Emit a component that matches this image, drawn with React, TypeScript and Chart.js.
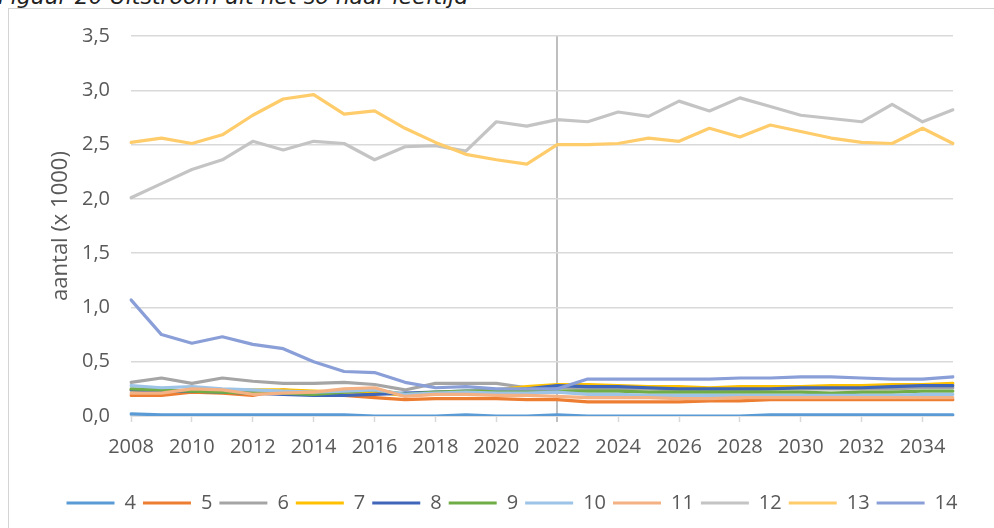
import React, { useEffect, useRef } from "react";
import { Chart, registerables } from "chart.js";

Chart.register(...registerables);

const years = [
  "2008", "2009", "2010", "2011", "2012", "2013", "2014", "2015", "2016", "2017",
  "2018", "2019", "2020", "2021", "2022", "2023", "2024", "2025", "2026", "2027",
  "2028", "2029", "2030", "2031", "2032", "2033", "2034", "2035",
];
const forecastYear = "2022";

const seriesNames = ["4", "5", "6", "7", "8", "9", "10", "11", "12", "13", "14"];
const seriesColors = [
  "#5B9BD5", "#ED7D31", "#A5A5A5", "#FFC000", "#3F66B8", "#70AD47",
  "#9DC3E6", "#F4B183", "#C4C4C4", "#FFCC6B", "#8A9FD8",
];

const s4 = [0.02, 0.01, 0.01, 0.01, 0.01, 0.01, 0.01, 0.01, 0.0, 0.0, 0.0, 0.01, 0.0, 0.0, 0.01, 0.0, 0.0, 0.0, 0.0, 0.0, 0.0, 0.01, 0.01, 0.01, 0.01, 0.01, 0.01, 0.01];
const s5 = [0.19, 0.19, 0.22, 0.21, 0.19, 0.24, 0.21, 0.19, 0.17, 0.15, 0.16, 0.16, 0.16, 0.15, 0.15, 0.13, 0.13, 0.13, 0.13, 0.14, 0.14, 0.15, 0.15, 0.15, 0.15, 0.15, 0.15, 0.15];
const s6 = [0.31, 0.35, 0.3, 0.35, 0.32, 0.3, 0.3, 0.31, 0.29, 0.24, 0.3, 0.3, 0.3, 0.26, 0.26, 0.25, 0.25, 0.25, 0.24, 0.24, 0.24, 0.25, 0.25, 0.25, 0.25, 0.25, 0.26, 0.26];
const s7 = [0.24, 0.22, 0.24, 0.23, 0.24, 0.24, 0.23, 0.22, 0.22, 0.19, 0.21, 0.22, 0.24, 0.27, 0.29, 0.29, 0.28, 0.27, 0.27, 0.26, 0.27, 0.27, 0.27, 0.28, 0.28, 0.29, 0.29, 0.3];
const s8 = [0.24, 0.23, 0.23, 0.22, 0.21, 0.2, 0.19, 0.19, 0.2, 0.21, 0.22, 0.23, 0.23, 0.25, 0.28, 0.27, 0.27, 0.26, 0.25, 0.25, 0.25, 0.25, 0.26, 0.26, 0.26, 0.27, 0.28, 0.28];
const s9 = [0.25, 0.24, 0.23, 0.22, 0.21, 0.21, 0.2, 0.22, 0.24, 0.2, 0.22, 0.23, 0.23, 0.23, 0.23, 0.23, 0.23, 0.22, 0.22, 0.22, 0.22, 0.22, 0.22, 0.21, 0.22, 0.22, 0.23, 0.23];
const s10 = [0.28, 0.26, 0.27, 0.25, 0.24, 0.23, 0.22, 0.23, 0.24, 0.2, 0.21, 0.22, 0.21, 0.21, 0.22, 0.2, 0.2, 0.19, 0.19, 0.19, 0.19, 0.19, 0.19, 0.19, 0.19, 0.19, 0.2, 0.2];
const s11 = [0.21, 0.21, 0.25, 0.24, 0.2, 0.21, 0.22, 0.25, 0.26, 0.18, 0.2, 0.2, 0.19, 0.19, 0.18, 0.17, 0.17, 0.17, 0.16, 0.16, 0.17, 0.17, 0.17, 0.17, 0.17, 0.17, 0.17, 0.17];
const s12 = [2.01, 2.14, 2.27, 2.36, 2.53, 2.45, 2.53, 2.51, 2.36, 2.48, 2.49, 2.44, 2.71, 2.67, 2.73, 2.71, 2.8, 2.76, 2.9, 2.81, 2.93, 2.85, 2.77, 2.74, 2.71, 2.87, 2.71, 2.82];
const s13 = [2.52, 2.56, 2.51, 2.59, 2.77, 2.92, 2.96, 2.78, 2.81, 2.65, 2.52, 2.41, 2.36, 2.32, 2.5, 2.5, 2.51, 2.56, 2.53, 2.65, 2.57, 2.68, 2.62, 2.56, 2.52, 2.51, 2.65, 2.51];
const s14 = [1.07, 0.75, 0.67, 0.73, 0.66, 0.62, 0.5, 0.41, 0.4, 0.31, 0.26, 0.27, 0.25, 0.25, 0.25, 0.34, 0.34, 0.34, 0.34, 0.34, 0.35, 0.35, 0.36, 0.36, 0.35, 0.34, 0.34, 0.36];

const seriesValues = [s4, s5, s6, s7, s8, s9, s10, s11, s12, s13, s14];

const yTicks = [0, 0.5, 1, 1.5, 2, 2.5, 3, 3.5];

const FONT = "'Open Sans', 'Noto Sans', sans-serif";
const TEXT = "#595959";
const GRID = "#d9d9d9";

export default function App() {
  const ref = useRef<HTMLCanvasElement | null>(null);

  useEffect(() => {
    if (!ref.current) return;
    const fIdx = years.indexOf(forecastYear);
    const chart = new Chart(ref.current, {
      type: "line",
      data: {
        labels: years,
        datasets: seriesNames.map((name, i) => ({
          label: name,
          data: seriesValues[i],
          borderColor: seriesColors[i],
          backgroundColor: seriesColors[i],
          borderWidth: 3.2,
          pointRadius: 0,
          tension: 0,
          borderJoinStyle: "round" as const,
          borderCapStyle: "round" as const,
          order: 100 - i,
        })),
      },
      options: {
        animation: false,
        responsive: false,
        maintainAspectRatio: false,
        layout: { padding: { left: 44, right: 14, top: 36, bottom: 5 } },
        plugins: {
          tooltip: { enabled: false },
          legend: {
            position: "bottom",
            labels: {
              boxWidth: 48,
              boxHeight: 3,
              padding: 7,
              color: TEXT,
              font: { family: FONT, size: 20 },
              generateLabels: (c: any) =>
                c.data.datasets.map((ds: any, i: number) => ({
                  text: ds.label,
                  fillStyle: ds.borderColor,
                  strokeStyle: ds.borderColor,
                  lineWidth: 0,
                  fontColor: TEXT,
                  hidden: false,
                  datasetIndex: i,
                })),
            },
          },
        },
        scales: {
          x: {
            type: "category",
            offset: false,
            grid: {
              display: true,
              drawOnChartArea: true,
              drawTicks: true,
              tickLength: 6,
              color: (ctx: any) => (ctx.index === fIdx ? "#bfbfbf" : "transparent"),
              lineWidth: (ctx: any) => (ctx.index === fIdx ? 2 : 1),
              tickColor: (ctx: any) =>
                ctx.index === fIdx ? "#bfbfbf" : ctx.index % 2 === 0 ? GRID : "transparent",
              tickWidth: (ctx: any) => (ctx.index === fIdx ? 2 : 1.5),
            },
            border: { display: true, color: GRID, width: 1.5 },
            ticks: {
              autoSkip: false,
              maxRotation: 0,
              minRotation: 0,
              padding: 13,
              color: TEXT,
              font: { family: FONT, size: 20 },
              callback: (_v: any, idx: number) => (idx % 2 === 0 ? years[idx] : ""),
            },
            afterFit: (scale: any) => {
              scale.height = 70;
            },
          },
          y: {
            type: "linear",
            min: yTicks[0],
            max: yTicks[yTicks.length - 1],
            afterBuildTicks: (scale: any) => {
              scale.ticks = yTicks.map((v) => ({ value: v }));
            },
            grid: { color: GRID, lineWidth: 1.5, drawTicks: false },
            border: { display: false },
            ticks: {
              padding: 21,
              color: TEXT,
              font: { family: FONT, size: 20 },
              callback: (v: any) => Number(v).toFixed(1).replace(".", ","),
            },
            title: {
              display: true,
              text: "aantal (x 1000)",
              color: TEXT,
              font: { family: FONT, size: 22 },
              padding: { top: 4, bottom: 0 },
            },
            afterFit: (scale: any) => {
              scale.width = 87;
            },
          },
          yRight: {
            type: "linear",
            position: "right",
            display: true,
            grid: { display: false, drawTicks: false },
            border: { display: false },
            ticks: { display: false },
            afterFit: (scale: any) => {
              scale.width = 27;
            },
          },
        },
      },
    });
    return () => chart.destroy();
  }, []);

  return (
    <div>
      <div
        style={{
          position: "absolute",
          left: -2,
          top: -15,
          fontFamily: "'DejaVu Sans', Verdana, sans-serif",
          fontStyle: "italic",
          fontSize: 22,
          lineHeight: "24px",
          color: "#222",
          whiteSpace: "nowrap",
        }}
      >
        Figuur 20 Uitstroom uit het so naar leeftijd
      </div>
      <div
        style={{
          position: "absolute",
          left: 8,
          top: 8,
          width: 1000,
          height: 540,
          border: "1px solid #d4d4d4",
          boxSizing: "border-box",
        }}
      />
      <canvas
        ref={ref}
        width={994}
        height={528}
        style={{ position: "absolute", left: 0, top: 0, width: 994, height: 528 }}
      />
    </div>
  );
}
